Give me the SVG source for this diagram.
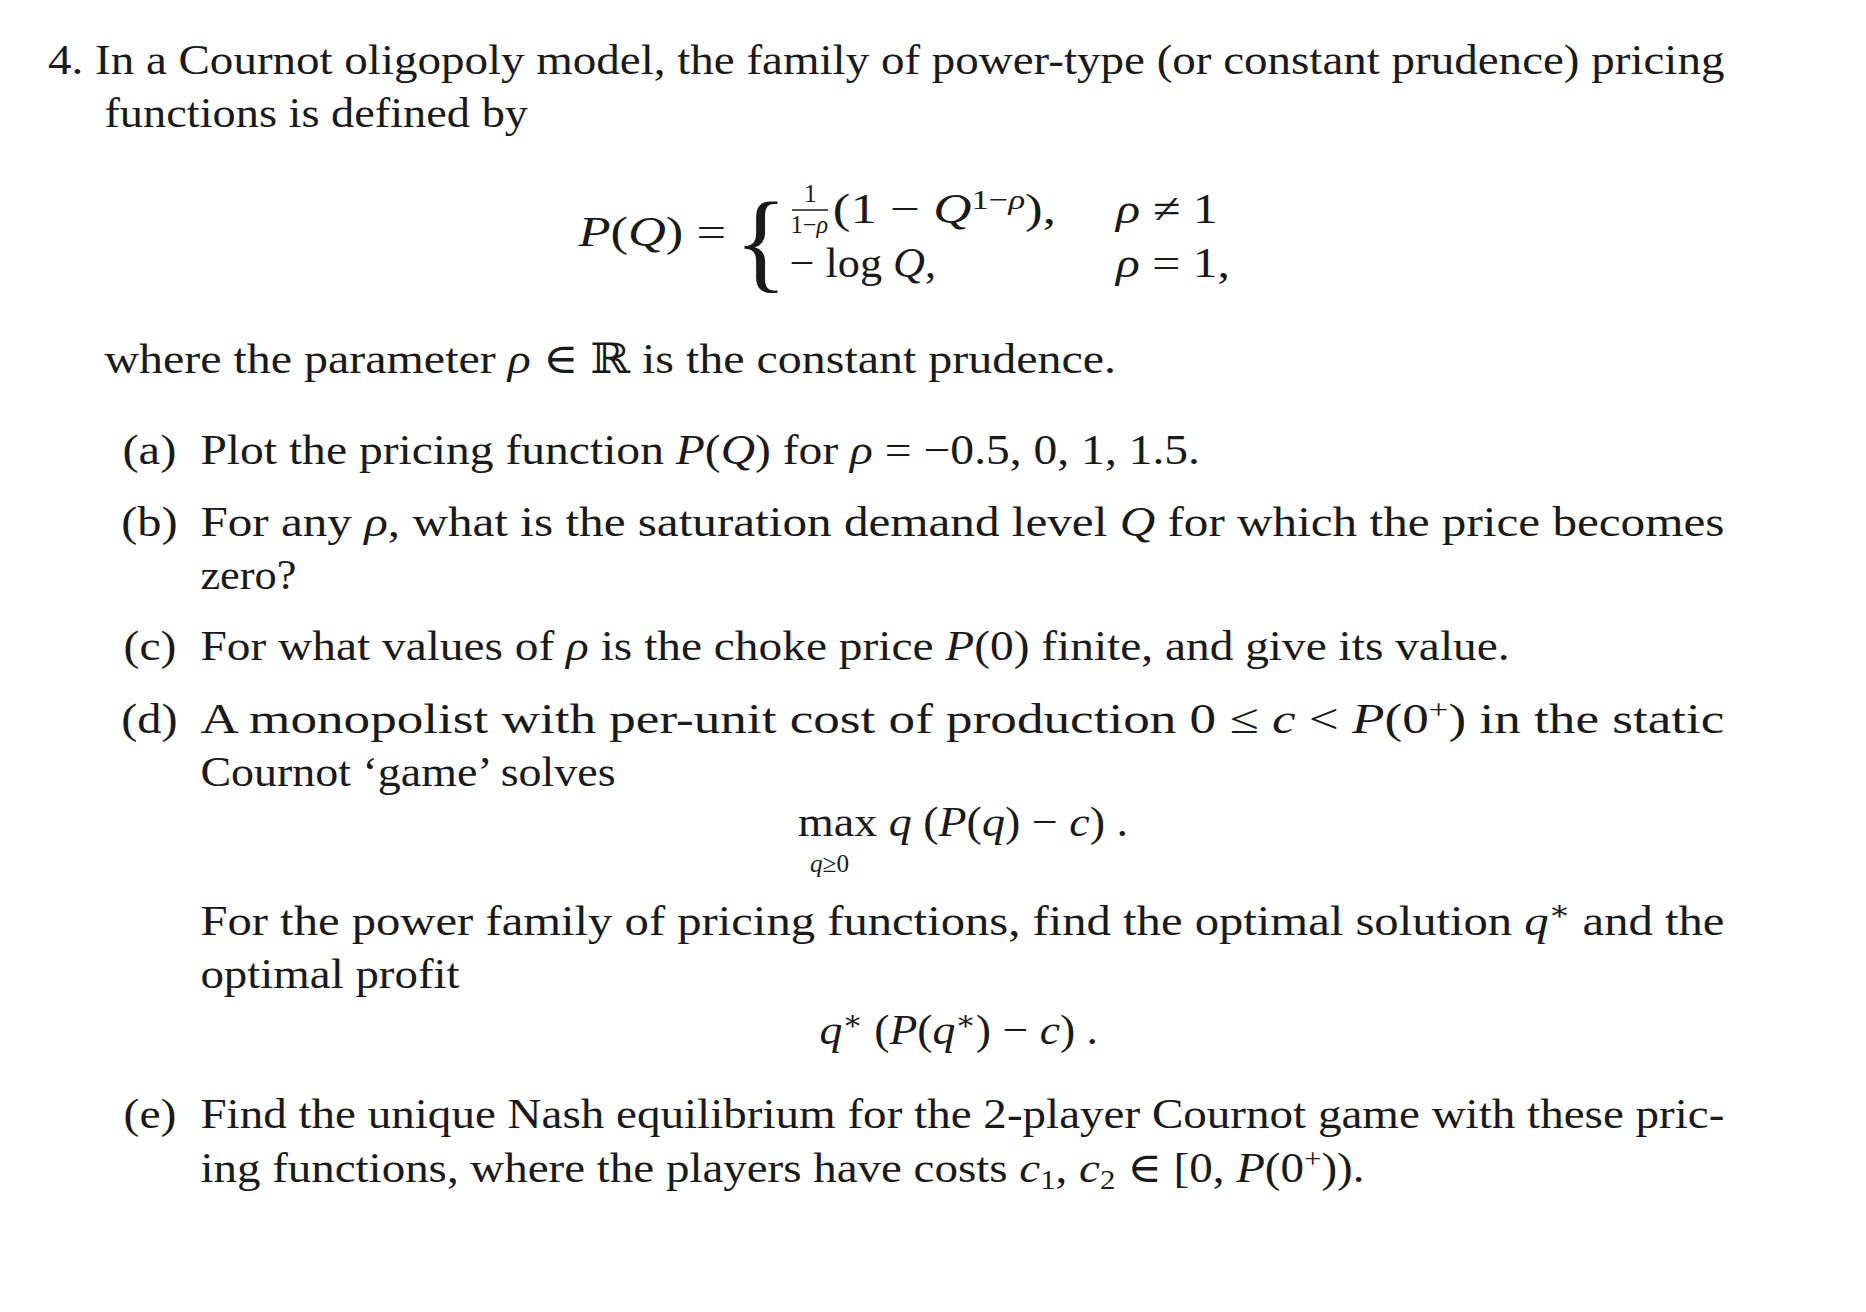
<svg xmlns="http://www.w3.org/2000/svg" width="1866" height="1312" viewBox="0 0 1866 1312">
<style>
text{font-family:"Liberation Serif","DejaVu Serif",serif;font-size:35px;fill:#1a1a1a}
.i{font-style:italic}
.s{font-size:23px}
.t{font-size:21px}
</style>
<rect width="1866" height="1312" fill="#fff"/>
<g transform="scale(1.2)">
<g id="intro">
<text x="40" y="62" textLength="1397" lengthAdjust="spacingAndGlyphs">4. In a Cournot oligopoly model, the family of power-type (or constant prudence) pricing</text>
<text x="87" y="106" textLength="353" lengthAdjust="spacingAndGlyphs">functions is defined by</text>
</g>
<g id="equation">
<text x="482" y="205" textLength="123" lengthAdjust="spacingAndGlyphs"><tspan class="i">P</tspan>(<tspan class="i">Q</tspan>) =</text>
<text x="612" y="232" style="font-size:92px">{</text>
<text x="670" y="168" class="t">1</text>
<line x1="660" y1="175" x2="690" y2="175" stroke="#1a1a1a" stroke-width="1.3"/>
<text x="659" y="194" class="t" textLength="31" lengthAdjust="spacingAndGlyphs">1−<tspan class="i">ρ</tspan></text>
<text x="694" y="186" textLength="186" lengthAdjust="spacingAndGlyphs">(1 − <tspan class="i">Q</tspan><tspan class="s" dy="-12">1−<tspan class="i">ρ</tspan></tspan><tspan dy="12">),</tspan></text>
<text x="930" y="186" textLength="85" lengthAdjust="spacingAndGlyphs"><tspan class="i">ρ</tspan> ≠ 1</text>
<text x="658" y="231" textLength="122" lengthAdjust="spacingAndGlyphs">− log <tspan class="i">Q</tspan>,</text>
<text x="930" y="231" textLength="95" lengthAdjust="spacingAndGlyphs"><tspan class="i">ρ</tspan> = 1,</text>
</g>
<g id="where">
<text x="87" y="311" textLength="843" lengthAdjust="spacingAndGlyphs">where the parameter <tspan class="i">ρ</tspan> ∈ ℝ is the constant prudence.</text>
</g>
<g id="part-a">
<text x="102" y="387" textLength="45" lengthAdjust="spacingAndGlyphs">(a)</text>
<text x="167" y="387" textLength="833" lengthAdjust="spacingAndGlyphs">Plot the pricing function <tspan class="i">P</tspan>(<tspan class="i">Q</tspan>) for <tspan class="i">ρ</tspan> = −0.5, 0, 1, 1.5.</text>
</g>
<g id="part-b">
<text x="101" y="447" textLength="47" lengthAdjust="spacingAndGlyphs">(b)</text>
<text x="167" y="447" textLength="1270" lengthAdjust="spacingAndGlyphs">For any <tspan class="i">ρ</tspan>, what is the saturation demand level <tspan class="i">Q</tspan> for which the price becomes</text>
<text x="167" y="491" textLength="80" lengthAdjust="spacingAndGlyphs">zero?</text>
</g>
<g id="part-c">
<text x="103" y="550" textLength="44" lengthAdjust="spacingAndGlyphs">(c)</text>
<text x="167" y="550" textLength="1091" lengthAdjust="spacingAndGlyphs">For what values of <tspan class="i">ρ</tspan> is the choke price <tspan class="i">P</tspan>(0) finite, and give its value.</text>
</g>
<g id="part-d">
<text x="101" y="611" textLength="47" lengthAdjust="spacingAndGlyphs">(d)</text>
<text x="167" y="611" textLength="1270" lengthAdjust="spacingAndGlyphs">A monopolist with per-unit cost of production 0 ≤ <tspan class="i">c</tspan> &lt; <tspan class="i">P</tspan>(0<tspan class="s" dy="-12">+</tspan><tspan dy="12">) in the static</tspan></text>
<text x="167" y="655" textLength="346" lengthAdjust="spacingAndGlyphs">Cournot ‘game’ solves</text>
<text x="665" y="697" textLength="275" lengthAdjust="spacingAndGlyphs">max <tspan class="i">q</tspan> (<tspan class="i">P</tspan>(<tspan class="i">q</tspan>) − <tspan class="i">c</tspan>) .</text>
<text x="675" y="727" class="t"><tspan class="i">q</tspan>≥0</text>
<text x="167" y="779" textLength="1270" lengthAdjust="spacingAndGlyphs">For the power family of pricing functions, find the optimal solution <tspan class="i">q</tspan><tspan class="s" dy="-12">∗</tspan><tspan dy="12"> and the</tspan></text>
<text x="167" y="823" textLength="216" lengthAdjust="spacingAndGlyphs">optimal profit</text>
<text x="683" y="870" textLength="232" lengthAdjust="spacingAndGlyphs"><tspan class="i">q</tspan><tspan class="s" dy="-12">∗</tspan><tspan dy="12"> (</tspan><tspan class="i">P</tspan>(<tspan class="i">q</tspan><tspan class="s" dy="-12">∗</tspan><tspan dy="12">) − </tspan><tspan class="i">c</tspan>) .</text>
</g>
<g id="part-e">
<text x="103" y="940" textLength="44" lengthAdjust="spacingAndGlyphs">(e)</text>
<text x="167" y="940" textLength="1270" lengthAdjust="spacingAndGlyphs">Find the unique Nash equilibrium for the 2-player Cournot game with these pric-</text>
<text x="167" y="985" textLength="970" lengthAdjust="spacingAndGlyphs">ing functions, where the players have costs <tspan class="i">c</tspan><tspan class="s" dy="6">1</tspan><tspan dy="-6">, </tspan><tspan class="i">c</tspan><tspan class="s" dy="6">2</tspan><tspan dy="-6"> ∈ [0, </tspan><tspan class="i">P</tspan>(0<tspan class="s" dy="-12">+</tspan><tspan dy="12">)).</tspan></text>
</g>
</g>
</svg>
